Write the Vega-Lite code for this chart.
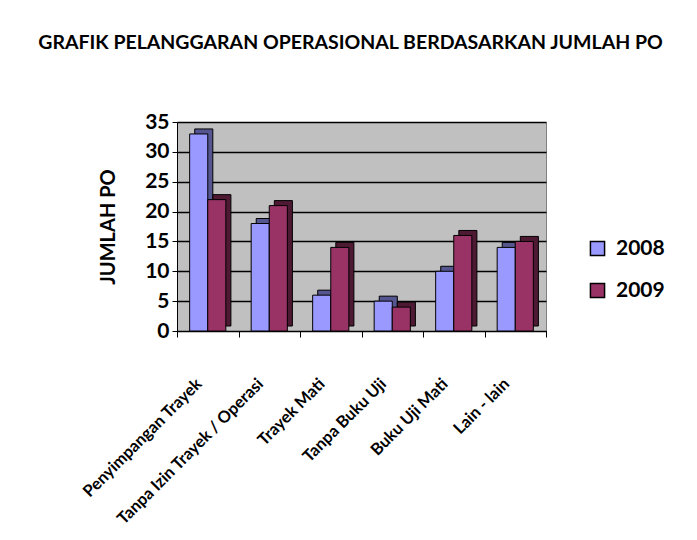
{
  "$schema": "https://vega.github.io/schema/vega-lite/v6.json",
  "width": 369,
  "height": 209,
  "autosize": {"type": "none"},
  "padding": {"left": 177, "top": 122, "right": 151, "bottom": 209},
  "background": "white",
  "title": {
    "text": "GRAFIK PELANGGARAN OPERASIONAL BERDASARKAN JUMLAH PO",
    "font": "Lato",
    "fontSize": 19.5,
    "fontWeight": "bold",
    "color": "black",
    "anchor": "middle",
    "dx": -11,
    "offset": 58
  },
  "data": {
    "values": [
      {"kategori": "Penyimpangan Trayek", "tahun": "2008", "jumlah": 33},
      {"kategori": "Penyimpangan Trayek", "tahun": "2009", "jumlah": 22},
      {"kategori": "Tanpa Izin Trayek / Operasi", "tahun": "2008", "jumlah": 18},
      {"kategori": "Tanpa Izin Trayek / Operasi", "tahun": "2009", "jumlah": 21},
      {"kategori": "Trayek Mati", "tahun": "2008", "jumlah": 6},
      {"kategori": "Trayek Mati", "tahun": "2009", "jumlah": 14},
      {"kategori": "Tanpa Buku Uji", "tahun": "2008", "jumlah": 5},
      {"kategori": "Tanpa Buku Uji", "tahun": "2009", "jumlah": 4},
      {"kategori": "Buku Uji Mati", "tahun": "2008", "jumlah": 10},
      {"kategori": "Buku Uji Mati", "tahun": "2009", "jumlah": 16},
      {"kategori": "Lain - lain", "tahun": "2008", "jumlah": 14},
      {"kategori": "Lain - lain", "tahun": "2009", "jumlah": 15}
    ]
  },
  "encoding": {
    "x": {
      "field": "kategori",
      "type": "nominal",
      "sort": null,
      "scale": {"paddingInner": 0, "paddingOuter": 0},
      "axis": {
        "title": null,
        "labelAngle": -45,
        "labelAlign": "right",
        "labelBaseline": "middle",
        "labelPadding": 44,
        "labelOffset": -9,
        "labelFont": "Lato",
        "labelFontSize": 16.5,
        "labelFontWeight": "bold",
        "labelColor": "black",
        "tickBand": "extent",
        "tickColor": "black",
        "tickSize": 6,
        "domainColor": "black",
        "grid": false,
        "labelLimit": 400
      }
    },
    "y": {
      "field": "jumlah",
      "type": "quantitative",
      "scale": {"domain": [0, 35], "nice": false},
      "axis": {
        "title": "JUMLAH PO",
        "titleFont": "Lato",
        "titleFontSize": 20,
        "titleFontWeight": "bold",
        "titleColor": "black",
        "titlePadding": 26,
        "values": [0, 5, 10, 15, 20, 25, 30, 35],
        "labelFont": "Lato",
        "labelFontSize": 21,
        "labelFontWeight": "bold",
        "labelColor": "black",
        "labelPadding": 3,
        "tickColor": "black",
        "tickSize": 5,
        "domainColor": "black",
        "gridColor": "black",
        "gridWidth": 1.5
      }
    }
  },
  "layer": [
    {
      "mark": {"type": "bar", "stroke": "black", "strokeWidth": 1, "yOffset": -5},
      "encoding": {
        "xOffset": {
          "field": "tahun",
          "type": "nominal",
          "scale": {"paddingOuter": 0.7, "paddingInner": 0, "align": 0.7}
        },
        "color": {
          "condition": {"test": "datum.tahun === '2008'", "value": "#55558F"},
          "value": "#4E1A33"
        }
      }
    },
    {
      "mark": {"type": "bar", "stroke": "black", "strokeWidth": 1},
      "encoding": {
        "xOffset": {
          "field": "tahun",
          "type": "nominal",
          "scale": {"paddingOuter": 0.7, "paddingInner": 0}
        },
        "color": {
          "field": "tahun",
          "type": "nominal",
          "scale": {"domain": ["2008", "2009"], "range": ["#9999FF", "#993366"]},
          "legend": {
            "title": null,
            "orient": "none",
            "legendX": 410,
            "legendY": 116,
            "symbolType": "square",
            "symbolSize": 200,
            "symbolStrokeColor": "black",
            "symbolStrokeWidth": 1.5,
            "labelFont": "Lato",
            "labelFontSize": 21,
            "labelFontWeight": "bold",
            "labelColor": "black",
            "rowPadding": 20,
            "labelOffset": 8
          }
        }
      }
    }
  ],
  "resolve": {"scale": {"xOffset": "independent"}},
  "config": {
    "view": {"fill": "#C0C0C0", "stroke": "#808080", "strokeWidth": 1}
  }
}
